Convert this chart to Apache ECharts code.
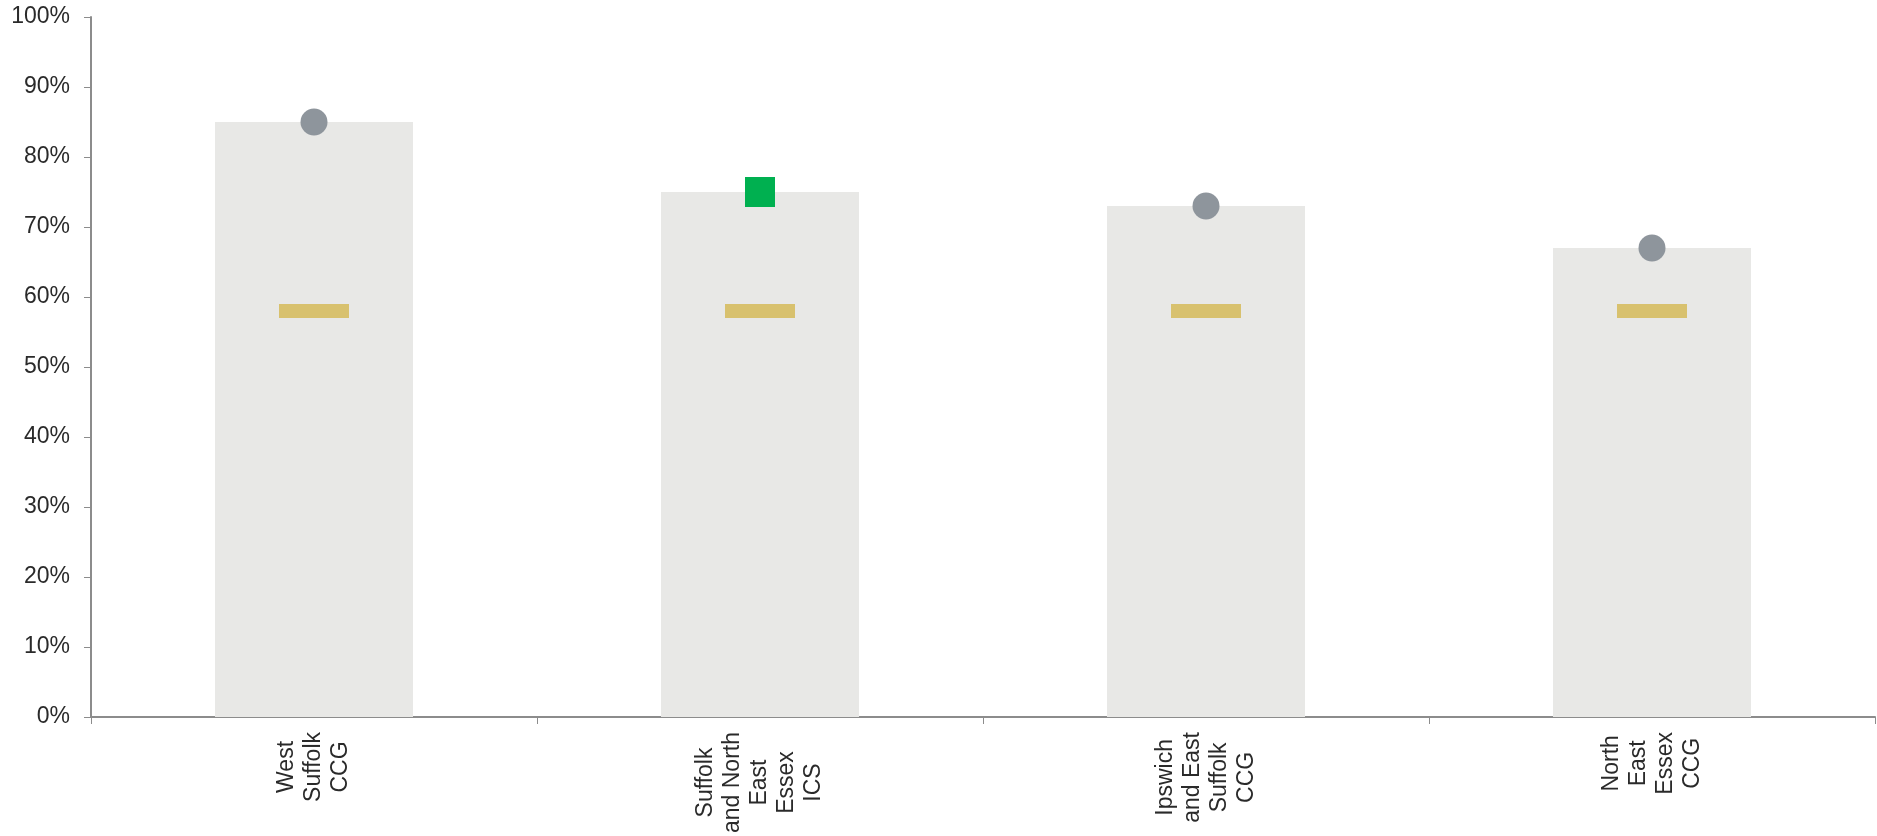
<!DOCTYPE html>
<html>
<head>
<meta charset="utf-8">
<script src="https://cdn.jsdelivr.net/npm/echarts@6/dist/echarts.min.js"></script>
<style>
html,body{margin:0;padding:0;background:#fff;}
#chart{width:1877px;height:836px;}
</style>
</head>
<body>
<div id="chart"></div>
<script>
const categories = ['West\nSuffolk\nCCG', 'Suffolk\nand North\nEast\nEssex\nICS', 'Ipswich\nand East\nSuffolk\nCCG', 'North\nEast\nEssex\nCCG'];
const barValues = [85, 75, 73, 67];
const markerValues = [85, 75, 73, 67];
const markerStatus = ['similar', 'higher', 'similar', 'similar'];
const benchmarkValues = [58, 58, 58, 58];
const yTicks = [0, 10, 20, 30, 40, 50, 60, 70, 80, 90, 100];

const FONT = '"Liberation Sans", Arial, sans-serif';
const TEXT = '#2a2a2a';
const AXIS = '#8c8c8c';

const chart = echarts.init(document.getElementById('chart'), null, {renderer: 'canvas'});

const markerData = markerValues.map((v, i) => {
  const higher = markerStatus[i] === 'higher';
  return {
    value: [i, v],
    symbol: higher ? 'rect' : 'circle',
    symbolSize: higher ? 30 : 27,
    itemStyle: {color: higher ? '#00b050' : '#8e959c', opacity: 1}
  };
});

chart.setOption({
  animation: false,
  grid: {left: 91, right: 2, top: 17, bottom: 119, containLabel: false},
  xAxis: {
    type: 'category',
    data: categories,
    boundaryGap: true,
    axisLine: {lineStyle: {color: AXIS, width: 2}},
    axisTick: {show: true, length: 7, alignWithLabel: false, lineStyle: {color: AXIS, width: 1}},
    axisLabel: {
      interval: 0,
      rotate: 90,
      margin: 15,
      formatter: v => v.split('\n').map(l => '{c|' + l + '}').join('\n'),
      rich: {
        c: {align: 'center', fontSize: 23, lineHeight: 27, fontFamily: FONT, color: TEXT}
      }
    },
    splitLine: {show: false}
  },
  yAxis: {
    type: 'value',
    min: yTicks[0],
    max: yTicks[yTicks.length - 1],
    interval: 10,
    axisLine: {show: true, lineStyle: {color: AXIS, width: 2}},
    axisTick: {show: true, length: 7, lineStyle: {color: AXIS, width: 1}},
    axisLabel: {
      margin: 21,
      fontSize: 23,
      fontFamily: FONT,
      color: TEXT,
      formatter: v => v + '%'
    },
    splitLine: {show: false}
  },
  series: [
    {
      type: 'bar',
      data: barValues,
      barWidth: '44.4%',
      itemStyle: {color: '#e8e8e6'},
      z: 1
    },
    {
      type: 'scatter',
      data: benchmarkValues.map((v, i) => [i, v]),
      symbol: 'rect',
      symbolSize: [70, 14],
      itemStyle: {color: '#d8c16e', opacity: 1},
      z: 3
    },
    {
      type: 'scatter',
      data: markerData,
      z: 4
    }
  ]
});
</script>
</body>
</html>
